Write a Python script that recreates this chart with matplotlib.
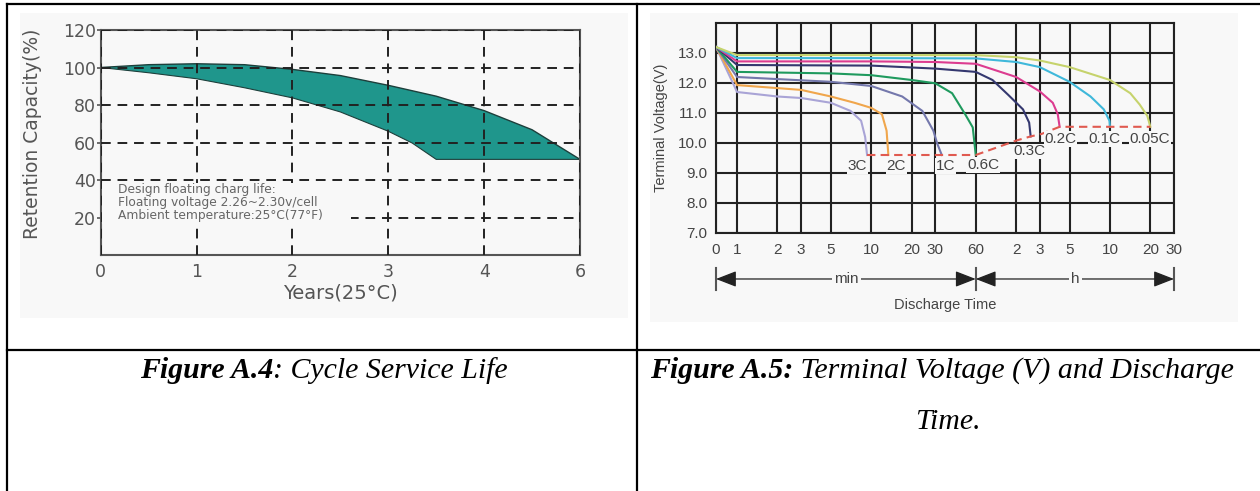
import numpy as np
import matplotlib.pyplot as plt
from matplotlib.lines import Line2D
from matplotlib.patches import Rectangle

# ---- Figure A.4 : cycle service life (x axis is categorical: 0 1 2 3 4 6) ----
year_pos = [0, 1, 2, 3, 4, 5]
year_lbl = ['0', '1', '2', '3', '4', '6']
cap_ticks = [20, 40, 60, 80, 100, 120]

upper_x = [0, 0.5, 1, 1.5, 2, 2.5, 3, 3.5, 4, 4.5, 5]
upper_y = [100, 101.5, 102, 101.5, 99, 95.7, 90.5, 84.7, 77, 66.8, 51]
lower_x = [0, 0.5, 1, 1.5, 2, 2.5, 3, 3.25, 3.5, 5]
lower_y = [100, 97.2, 94, 89.2, 83.8, 76.3, 66, 59.7, 51, 51]

note = ("Design floating charg life:\n"
        "Floating voltage 2.26~2.30v/cell\n"
        "Ambient temperature:25\u00b0C(77\u00b0F)")

# ---- Figure A.5 : terminal voltage vs discharge time (time in minutes) ----
t_ticks = [0, 1, 2, 3, 5, 10, 20, 30, 60, 120, 180, 300, 600, 1200, 1800]
t_lbls = ['0', '1', '2', '3', '5', '10', '20', '30', '60', '2', '3', '5', '10', '20', '30']
v_ticks = [7, 8, 9, 10, 11, 12, 13]

t_3c = [0, 1, 2, 3, 5, 7, 8.4, 9, 9.3]
v_3c = [13.2, 11.7, 11.55, 11.5, 11.34, 11.07, 10.74, 10.2, 9.6]
t_2c = [0, 1, 2, 3, 5, 7.5, 10, 12, 13, 13.4]
v_2c = [13.2, 11.93, 11.83, 11.77, 11.55, 11.34, 11.17, 10.96, 10.41, 9.6]
t_1c = [0, 1, 2, 5, 10, 17, 24, 29, 31, 33.5]
v_1c = [13.2, 12.2, 12.13, 12.04, 11.9, 11.55, 11.07, 10.41, 9.98, 9.6]
t_06c = [0, 1, 5, 10, 20, 30, 40, 50, 57, 60]
v_06c = [13.2, 12.37, 12.32, 12.26, 12.1, 11.99, 11.66, 10.96, 10.52, 9.6]
t_03c = [0, 1, 10, 30, 60, 80, 105, 135, 150, 154]
v_03c = [13.2, 12.6, 12.58, 12.48, 12.37, 12.1, 11.6, 11.12, 10.68, 10.22]
t_02c = [0, 1, 10, 30, 60, 120, 180, 225, 245, 253]
v_02c = [13.2, 12.72, 12.72, 12.7, 12.64, 12.2, 11.72, 11.34, 10.96, 10.54]
t_01c = [0, 1, 10, 60, 120, 180, 300, 430, 540, 595, 600]
v_01c = [13.2, 12.83, 12.83, 12.82, 12.7, 12.53, 12.04, 11.55, 11.12, 10.74, 10.54]
t_005c = [0, 1, 60, 120, 180, 300, 600, 850, 1000, 1140, 1200]
v_005c = [13.2, 12.93, 12.93, 12.86, 12.75, 12.53, 12.1, 11.66, 11.28, 10.9, 10.54]

cut_t = [9.3, 60, 120, 154, 185, 253, 1200]
cut_v = [9.6, 9.6, 10.08, 10.22, 10.3, 10.54, 10.54]

rate_names = ['3C', '2C', '1C', '0.6C', '0.3C', '0.2C', '0.1C', '0.05C']
rate_t = [t_3c, t_2c, t_1c, t_06c, t_03c, t_02c, t_01c, t_005c]
rate_v = [v_3c, v_2c, v_1c, v_06c, v_03c, v_02c, v_01c, v_005c]
rate_colors = ['#a9a4d6', '#f0a64c', '#7478ac', '#1f9a5e', '#34386f',
               '#dc3c90', '#3fb8da', '#c6d36c']
lbl_t = [7.9, 15.4, 36, 68, 151, 257, 548, 1188]
lbl_v = [9.24, 9.24, 9.24, 9.26, 9.72, 10.13, 10.13, 10.13]

IMG_BG = '#f8f8f8'
W, H = 1260, 491

fig = plt.figure(figsize=(12.6, 4.91), dpi=100)
bg = fig.add_axes([0, 0, 1, 1], zorder=0)
bg.set_xlim(0, W)
bg.set_ylim(H, 0)
bg.axis('off')

# faint picture backgrounds
bg.add_patch(Rectangle((20, 13), 608, 305, color=IMG_BG, lw=0))
bg.add_patch(Rectangle((650, 13), 588, 309, color=IMG_BG, lw=0))

# table rules
for xs, ys in [([7, W], [4, 4]), ([7, 7], [4, H]), ([636.5, 636.5], [4, H]),
               ([7, W], [350, 350])]:
    bg.add_line(Line2D(xs, ys, color='black', lw=1.6))

# captions (bold italic + italic in one line)
serif = 'Liberation Serif'
r = fig.canvas.get_renderer()
for x0, bold, rest in [(140, 'Figure A.4', ': Cycle Service Life'),
                       (650, 'Figure A.5:', ' Terminal Voltage (V) and Discharge')]:
    t1 = bg.text(x0, 378, bold, family=serif, style='italic', weight='bold',
                 fontsize=21.5, va='baseline')
    w = t1.get_window_extent(r).width
    bg.text(x0 + w, 378, rest, family=serif, style='italic', fontsize=21.5, va='baseline')
bg.text(948, 429, 'Time.', family=serif, style='italic', fontsize=21.5,
        va='baseline', ha='center')

# ---------------- left chart ----------------
ax1 = fig.add_axes([100.7 / W, 1 - 255 / H, 479.3 / W, 225 / H], zorder=1)
ax1.set_facecolor('none')
ax1.fill(upper_x + lower_x[::-1], upper_y + lower_y[::-1], color='#1f968c', lw=0, zorder=1)
ax1.plot(upper_x, upper_y, color='#1d3f3b', lw=1, zorder=1.5)
ax1.plot(lower_x, lower_y, color='#1d3f3b', lw=0.8, zorder=1.5)
ax1.set_xlim(0, 5)
ax1.set_ylim(0, 120)
ax1.set_xticks(year_pos)
ax1.set_xticklabels(year_lbl)
ax1.set_yticks(cap_ticks)
ax1.grid(True, color='#222222', lw=1.4, linestyle=(0, (5, 3.5)))
ax1.set_axisbelow(False)
ax1.tick_params(axis='x', length=0, pad=6, labelsize=12.5, labelcolor='#555555')
ax1.tick_params(axis='y', length=3, pad=0.5, labelsize=12.5, labelcolor='#555555',
                color='#555555', width=1.2)
for s in ax1.spines.values():
    s.set_color('#555555')
    s.set_linewidth(1.5)
ax1.set_ylabel('Retention Capacity(%)', fontsize=13.5, color='#555555')
ax1.yaxis.set_label_coords(-0.1225, 0.54)
ax1.set_xlabel('Years(25\u00b0C)', fontsize=14, color='#555555')
ax1.xaxis.set_label_coords(0.5, -0.125)
ax1.add_patch(Rectangle((0.01, 16.6), 2.6, 21.6, color=IMG_BG, lw=0, zorder=3))
ax1.text(0.18, 38.4, note, fontsize=8.8, color='#666666', va='top', ha='left',
         linespacing=1.0, zorder=4)

# ---------------- right chart ----------------
narrow = ['Liberation Sans Narrow', 'Liberation Sans']
ZERO_W = 0.157


def fwd(t):
    t = np.asarray(t, float)
    return np.where(t < 1, -ZERO_W * (1 - t), np.log10(np.maximum(t, 1)))


def inv(u):
    u = np.asarray(u, float)
    return np.where(u < 0, 1 + u / ZERO_W, 10 ** np.minimum(u, 10))


ax2 = fig.add_axes([716 / W, 1 - 233 / H, 458 / W, 210 / H], zorder=1)
ax2.set_facecolor('none')
ax2.set_xscale('function', functions=(fwd, inv))
ax2.set_xlim(0, 1800)
ax2.set_ylim(7, 14)
ax2.set_xticks(t_ticks)
ax2.set_xticklabels(t_lbls, family=narrow)
ax2.set_yticks(v_ticks)
ax2.set_yticklabels(['%.1f' % v for v in v_ticks], family=narrow)
ax2.minorticks_off()
ax2.grid(True, color='#222222', lw=1.5)
ax2.tick_params(axis='x', length=0, pad=7, labelsize=11, labelcolor='#444444')
ax2.tick_params(axis='y', length=0, pad=6, labelsize=11, labelcolor='#444444')
for s in ax2.spines.values():
    s.set_color('#222222')
    s.set_linewidth(1.5)

for name, tt, vv, c in zip(rate_names, rate_t, rate_v, rate_colors):
    ax2.plot(tt, vv, color=c, lw=1.5, zorder=3)
ax2.plot(cut_t, cut_v, color='#e05a50', lw=1.5, linestyle=(0, (4, 2.5)), zorder=3)
for name, tx, vy in zip(rate_names, lbl_t, lbl_v):
    ax2.text(tx, vy, name, fontsize=11, family=narrow, color='#444444',
             ha='center', va='center', zorder=4,
             bbox=dict(facecolor=IMG_BG, edgecolor='none', pad=0.6))

ax2.set_ylabel('Terminal Voltage(V)', fontsize=10.5, family=narrow, color='#444444')
ax2.yaxis.set_label_coords(-0.105, 0.5)

# min / h span arrows under the axis
xt = ax2.get_xaxis_transform()
yb = -0.219
for tx in [0, 60, 1800]:
    ax2.plot([tx, tx], [-0.165, -0.27], color='#555555', lw=1.5, transform=xt, clip_on=False)
for a, b, lab, mid in [(0, 60, 'min', 6.5), (60, 1800, 'h', 333)]:
    ax2.annotate('', xy=(b, yb), xytext=(a, yb), xycoords=xt, textcoords=xt,
                 arrowprops=dict(arrowstyle='<|-|>,head_length=0.9,head_width=0.35',
                                 color='#222222', lw=0.9, mutation_scale=14,
                                 shrinkA=0, shrinkB=0))
    ax2.text(mid, yb, lab, transform=xt, fontsize=11, family=narrow, color='#444444',
             ha='center', va='center',
             bbox=dict(facecolor=IMG_BG, edgecolor='none', pad=1.5))
ax2.text(0.5, -0.343, 'Discharge Time', transform=ax2.transAxes, fontsize=10.5,
         family=narrow, color='#444444', ha='center', va='center')

fig.savefig('out.png', dpi=100)
